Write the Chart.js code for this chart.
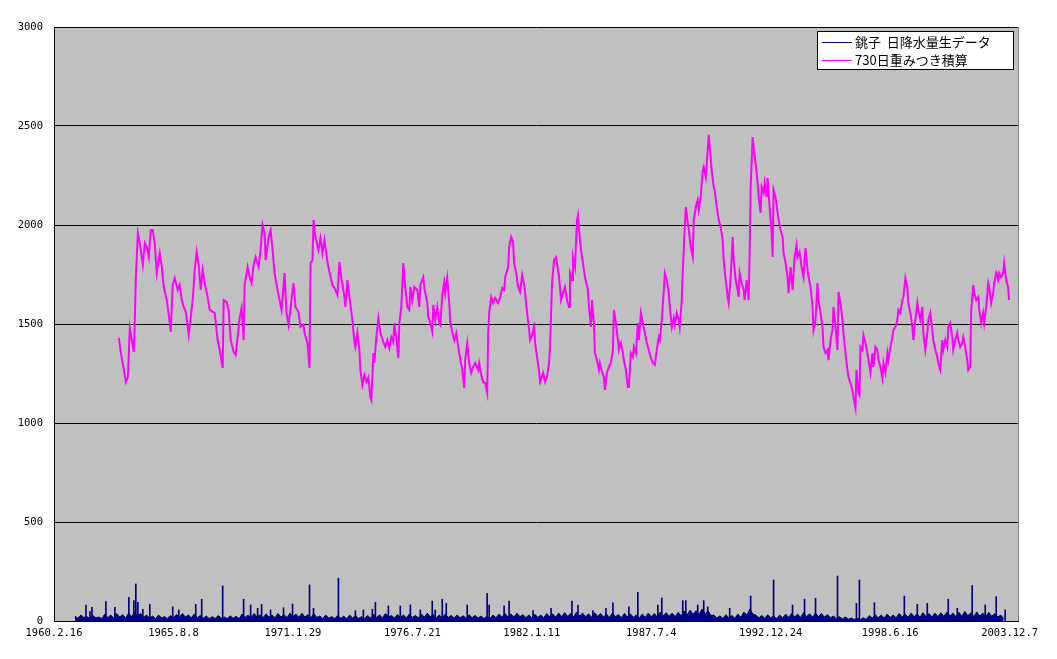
<!DOCTYPE html>
<html>
<head>
<meta charset="utf-8">
<script src="https://cdn.jsdelivr.net/npm/chart.js@4.4.0/dist/chart.umd.min.js"></script>
<style>
  html, body { margin: 0; padding: 0; background: #fff; }
</style>
</head>
<body>
<canvas id="chart" width="1057" height="659"></canvas>
<script>
// x axis is in days counted from 1960.2.16
const tickDays = [0, 2000, 4000, 6000, 8000, 10000, 12000, 14000, 16000];
const tickLabels = ['1960.2.16', '1965.8.8', '1971.1.29', '1976.7.21', '1982.1.11',
  '1987.7.4', '1992.12.24', '1998.6.16', '2003.12.7'];
const yTicks = [0, 500, 1000, 1500, 2000, 2500, 3000];

const rainLabel = '銚子  日降水量生データ';
const accLabel = '730日重みつき積算';

// 730-day weighted accumulation
const accDays = [1086,1120,1170,1203,1237,1270,1303,1337,1354,1370,1404,1437,1487,1521,1554,1587,1621,1654,1688,1721,1771,1805,1838,1888,1922,1955,1988,2022,2072,2105,2139,2172,2206,2256,2289,2323,2356,2390,2423,2456,2490,2523,2573,2607,2657,2690,2740,2774,2824,2841,2891,2924,2958,3008,3041,3075,3108,3141,3175,3192,3242,3275,3309,3342,3375,3426,3459,3492,3526,3543,3593,3626,3660,3693,3743,3776,3810,3860,3893,3927,3977,4010,4044,4094,4127,4178,4194,4244,4278,4295,4328,4345,4378,4428,4462,4495,4528,4579,4612,4662,4696,4746,4779,4812,4863,4879,4913,4946,4996,5030,5047,5080,5113,5130,5164,5197,5230,5264,5297,5314,5347,5364,5397,5431,5464,5514,5548,5581,5615,5648,5681,5698,5732,5765,5782,5815,5849,5882,5916,5949,5966,5999,6033,6083,6116,6133,6183,6200,6250,6267,6300,6334,6350,6384,6417,6451,6468,6501,6534,6551,6584,6618,6635,6668,6702,6735,6768,6785,6835,6869,6885,6919,6952,6985,7019,7052,7102,7119,7153,7186,7219,7253,7270,7286,7320,7353,7386,7436,7470,7503,7537,7554,7604,7621,7654,7687,7704,7738,7771,7804,7838,7871,7888,7921,7955,7971,8005,8038,8055,8088,8122,8139,8189,8222,8255,8289,8306,8339,8372,8406,8456,8489,8523,8556,8589,8623,8639,8673,8689,8723,8756,8773,8790,8823,8856,8890,8940,8957,8990,9007,9040,9057,9090,9124,9140,9174,9207,9224,9257,9291,9324,9358,9374,9408,9441,9458,9491,9525,9541,9575,9608,9625,9658,9692,9709,9742,9775,9792,9826,9859,9892,9926,9959,9993,10026,10059,10093,10126,10143,10176,10210,10227,10260,10293,10310,10344,10377,10394,10427,10461,10477,10511,10528,10561,10578,10611,10628,10661,10695,10711,10745,10778,10795,10828,10862,10878,10912,10945,10962,10979,11012,11045,11062,11096,11129,11162,11196,11212,11246,11279,11296,11330,11363,11380,11413,11446,11463,11480,11513,11547,11563,11597,11630,11647,11664,11697,11714,11747,11781,11797,11831,11848,11881,11898,11931,11948,11981,12015,12032,12048,12082,12115,12132,12165,12199,12215,12249,12282,12299,12332,12366,12399,12432,12449,12483,12516,12549,12566,12583,12616,12633,12667,12700,12717,12750,12783,12800,12834,12867,12884,12917,12951,12967,13001,13034,13051,13084,13118,13134,13168,13201,13218,13252,13285,13302,13335,13368,13385,13419,13435,13469,13486,13502,13536,13553,13586,13619,13636,13670,13703,13720,13753,13786,13803,13837,13870,13887,13920,13954,13970,14004,14037,14054,14087,14120,14137,14171,14204,14221,14254,14288,14304,14338,14371,14388,14421,14455,14471,14505,14538,14555,14588,14622,14639,14672,14705,14722,14756,14789,14806,14839,14872,14889,14923,14956,14973,15006,15040,15056,15090,15123,15140,15173,15207,15223,15257,15290,15307,15340,15357,15391,15407,15441,15474,15491,15524,15557,15574,15608,15641,15658,15691,15725,15741,15775,15808,15825,15858,15892,15908,15942,15975,15990];
const accValues = [1429,1353,1268,1207,1232,1480,1419,1359,1530,1732,1960,1909,1798,1909,1889,1838,1975,1975,1899,1757,1858,1788,1687,1621,1545,1460,1697,1732,1672,1697,1621,1586,1561,1444,1535,1621,1773,1864,1798,1672,1773,1707,1636,1571,1561,1556,1419,1369,1278,1621,1611,1571,1419,1359,1343,1434,1530,1581,1419,1697,1788,1737,1707,1798,1838,1788,1874,2000,1960,1823,1939,1975,1874,1757,1672,1621,1571,1757,1556,1495,1621,1707,1586,1561,1485,1495,1455,1404,1278,1808,1823,2025,1939,1874,1934,1858,1924,1813,1763,1697,1682,1646,1813,1732,1636,1586,1722,1636,1520,1409,1384,1455,1369,1268,1192,1242,1207,1232,1131,1116,1353,1303,1434,1530,1455,1409,1384,1419,1379,1434,1409,1505,1429,1328,1505,1586,1808,1687,1586,1571,1687,1621,1687,1672,1586,1697,1737,1682,1606,1535,1505,1460,1596,1520,1586,1505,1495,1646,1712,1656,1732,1606,1510,1460,1419,1455,1384,1353,1268,1177,1318,1404,1303,1253,1283,1303,1268,1303,1242,1207,1202,1152,1455,1556,1636,1606,1631,1606,1636,1682,1672,1737,1788,1889,1939,1914,1808,1757,1687,1662,1747,1697,1656,1556,1470,1419,1444,1485,1404,1333,1258,1207,1253,1207,1232,1303,1394,1707,1823,1838,1737,1621,1656,1687,1621,1586,1757,1722,1838,1788,2025,2050,1975,1874,1808,1737,1672,1586,1485,1621,1505,1353,1318,1268,1303,1258,1232,1167,1253,1283,1303,1369,1571,1505,1419,1369,1404,1353,1318,1268,1182,1182,1353,1333,1384,1353,1505,1419,1556,1505,1455,1404,1369,1328,1303,1293,1369,1434,1419,1520,1672,1757,1722,1656,1586,1485,1530,1495,1556,1520,1485,1621,1773,1990,2091,2010,1975,1889,1838,2025,2091,2126,2076,2141,2278,2293,2242,2379,2455,2394,2278,2192,2177,2091,2025,1990,1924,1823,1722,1636,1606,1737,1939,1823,1722,1672,1636,1757,1707,1672,1621,1722,1621,1858,2192,2444,2394,2313,2212,2141,2061,2192,2162,2212,2141,2237,2091,1960,1838,2177,2141,2061,2025,1975,1939,1858,1808,1737,1656,1788,1672,1838,1899,1838,1864,1788,1737,1823,1884,1773,1737,1687,1586,1470,1520,1707,1621,1556,1485,1384,1353,1369,1318,1419,1470,1586,1485,1369,1662,1606,1520,1455,1353,1268,1232,1202,1167,1131,1076,1268,1152,1141,1384,1369,1444,1404,1353,1318,1253,1353,1283,1384,1369,1318,1283,1227,1303,1253,1353,1318,1384,1434,1470,1485,1520,1571,1556,1621,1636,1732,1687,1606,1556,1485,1419,1520,1606,1571,1520,1586,1455,1369,1455,1520,1556,1470,1419,1369,1333,1303,1268,1419,1369,1419,1384,1485,1505,1434,1369,1419,1455,1419,1384,1404,1434,1384,1318,1268,1283,1571,1697,1656,1621,1636,1571,1505,1556,1505,1586,1707,1687,1606,1656,1707,1757,1722,1757,1737,1757,1808,1722,1687,1621];

// daily rainfall: dense low band, sampled every 50 days from day 350
const rainBandStart = 350;
const rainBandStep = 50;
const rainBand = [25,14,30,18,22,12,28,16,20,13,35,17,30,15,38,20,32,16,40,22,45,25,38,18,30,14,25,12,30,16,22,13,28,15,33,18,38,20,30,16,35,17,28,14,25,12,22,13,28,15,20,12,26,14,24,12,35,18,30,16,38,20,32,17,36,19,30,16,38,20,33,17,40,22,35,18,40,20,32,16,38,18,25,13,30,15,22,12,28,14,24,12,30,15,26,13,22,12,28,14,35,18,30,16,38,20,28,15,33,17,30,16,35,18,28,15,36,19,40,22,32,17,30,16,35,18,28,15,30,16,26,14,32,17,28,15,25,13,24,12,30,16,35,19,38,20,36,19,40,22,32,17,30,16,34,18,30,16,38,20,36,19,40,22,42,24,38,20,45,25,40,22,36,19,42,24,38,20,35,18,40,22,32,17,38,20,36,19,30,16,35,18,40,22,38,20,45,25,42,24,40,22,44,26,50,30,55,34,52,32,60,36,50,28,30,15,26,13,32,16,28,14,35,18,45,30,60,35,30,16,28,14,32,16,25,13,30,15,35,18,38,20,35,18,42,22,36,19,40,21,38,20,32,16,25,12,22,10,20,9,15,8,14,7,16,8,28,14,32,16,30,15,35,18,30,16,38,20,35,18,40,22,36,19,42,23,38,20,40,22,42,23,45,25,40,22,44,24,48,26,42,23,46,25,40,22,44,24,38,20,30,14];

// daily rainfall: individual heavy-rain days
const rainSpikeDays = [535,602,635,869,1019,1253,1337,1370,1404,1487,1604,1988,2089,2373,2473,2824,3175,3292,3409,3476,3626,3843,3994,4278,4345,4762,5046,5180,5330,5381,5598,5798,5966,6133,6333,6383,6500,6567,6918,7252,7286,7536,7620,8021,8322,8672,8773,9023,9241,9358,9625,9775,10110,10176,10527,10578,10778,10878,10945,11313,11664,12048,12365,12566,12750,13118,13435,13485,13736,14237,14454,14621,14972,15123,15373,15591,15775,15925];
const rainSpikeValues = [81,47,69,98,69,120,103,187,94,59,84,72,56,84,110,177,110,81,64,84,56,67,86,182,64,216,52,56,59,94,76,76,81,56,101,56,110,89,81,140,81,76,101,52,64,101,81,52,64,92,72,145,81,116,103,103,81,103,72,64,126,207,81,110,115,227,89,207,92,126,84,89,110,64,179,81,123,56];

const NAVY = '#000080';
const MAGENTA = '#ff00ff';
const tickFont = { family: 'DejaVu Sans Mono', size: 10.5 };

const plotDecor = {
  id: 'plotDecor',
  beforeDraw(chart) {
    const { ctx, chartArea: a } = chart;
    ctx.save();
    ctx.fillStyle = '#c0c0c0';
    ctx.fillRect(a.left, a.top, a.right - a.left, a.bottom - a.top);
    ctx.restore();
  },
  afterDraw(chart) {
    const { ctx, chartArea: a } = chart;
    ctx.save();
    // right edge of the plot
    ctx.strokeStyle = '#808080';
    ctx.lineWidth = 1;
    ctx.beginPath();
    ctx.moveTo(a.right + 0.5, a.top);
    ctx.lineTo(a.right + 0.5, a.bottom);
    ctx.stroke();

    // legend box in the top right corner
    const w = 197, h = 39;
    const lx = a.right - w - 4, ly = a.top + 4;
    ctx.fillStyle = '#fff';
    ctx.fillRect(lx, ly, w, h);
    ctx.strokeStyle = '#000';
    ctx.strokeRect(lx + 0.5, ly + 0.5, w - 1, h - 1);
    const items = [[rainLabel, NAVY], [accLabel, MAGENTA]];
    ctx.font = '13px "Noto Sans CJK JP"';
    ctx.textBaseline = 'middle';
    items.forEach(([text, color], i) => {
      const y = ly + 11 + i * 18;
      ctx.strokeStyle = color;
      ctx.beginPath();
      ctx.moveTo(lx + 5, y + 0.5);
      ctx.lineTo(lx + 35, y + 0.5);
      ctx.stroke();
      ctx.fillStyle = '#000';
      ctx.fillText(text, lx + 38, y);
    });
    ctx.restore();
  }
};

new Chart(document.getElementById('chart'), {
  type: 'line',
  data: {
    datasets: [
      {
        label: rainLabel,
        data: rainBand.map((v, i) => ({ x: rainBandStart + i * rainBandStep, y: v })),
        borderColor: NAVY,
        backgroundColor: NAVY,
        borderWidth: 1,
        pointRadius: 0,
        tension: 0,
        fill: 'origin'
      },
      {
        type: 'bar',
        label: rainLabel,
        data: rainSpikeDays.map((d, i) => ({ x: d, y: rainSpikeValues[i] })),
        backgroundColor: NAVY,
        barThickness: 1
      },
      {
        label: accLabel,
        data: accDays.map((d, i) => ({ x: d, y: accValues[i] })),
        borderColor: MAGENTA,
        borderWidth: 2,
        pointRadius: 0,
        tension: 0,
        fill: false
      }
    ]
  },
  options: {
    responsive: false,
    animation: false,
    devicePixelRatio: 1,
    layout: { padding: { top: 27, right: 39, left: 0, bottom: 0 } },
    plugins: { legend: { display: false }, tooltip: { enabled: false } },
    scales: {
      x: {
        type: 'linear',
        min: 0,
        max: 16140,
        offset: false,
        grid: { display: false, drawTicks: false },
        border: { color: '#000' },
        afterBuildTicks: s => { s.ticks = tickDays.map(v => ({ value: v })); },
        afterFit: s => { s.height = 38; },
        ticks: {
          callback: v => tickLabels[tickDays.indexOf(v)],
          autoSkip: false,
          maxRotation: 0,
          font: tickFont,
          color: '#000',
          padding: 6
        }
      },
      y: {
        min: 0,
        max: 3000,
        afterBuildTicks: s => { s.ticks = yTicks.map(v => ({ value: v })); },
        afterFit: s => { s.width = 54; },
        grid: { color: '#000', drawTicks: false },
        border: { color: '#000' },
        ticks: {
          callback: v => String(v),
          font: tickFont,
          color: '#000',
          padding: 11
        }
      }
    }
  },
  plugins: [plotDecor]
});
</script>
</body>
</html>
